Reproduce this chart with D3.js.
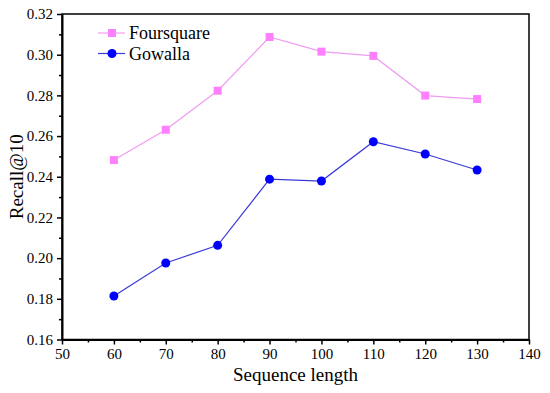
<!DOCTYPE html>
<html>
<head>
<meta charset="utf-8">
<script src="https://cdn.jsdelivr.net/npm/d3@7"></script>
<style>
  body { margin: 0; background: #fff; }
</style>
</head>
<body>
<div id="chart"></div>
<script>
// sequence lengths on the x axis
const seqLengths = [60, 70, 80, 90, 100, 110, 120, 130];
const foursquare = [0.2482, 0.2631, 0.2823, 0.3087, 0.3015, 0.2994, 0.2799, 0.2782];
const gowalla = [0.1814, 0.1976, 0.2063, 0.2388, 0.2379, 0.2572, 0.2512, 0.2433];
const xTicks = [50, 60, 70, 80, 90, 100, 110, 120, 130, 140];
const yTicks = [0.16, 0.18, 0.20, 0.22, 0.24, 0.26, 0.28, 0.30, 0.32];

const width = 550, height = 393;
const marginLeft = 62, marginRight = 21, marginTop = 14, marginBottom = 53.5;
const serif = "'Liberation Serif', 'Times New Roman', serif";

const svg = d3.select("#chart").append("svg")
  .attr("width", width)
  .attr("height", height)
  .style("font-family", serif);

const x = d3.scaleLinear([50, 140], [marginLeft, width - marginRight]);
const y = d3.scaleLinear([0.16, 0.32], [height - marginBottom, marginTop]);

// frame (top and right)
svg.append("rect")
  .attr("x", marginLeft).attr("y", marginTop)
  .attr("width", width - marginRight - marginLeft)
  .attr("height", height - marginBottom - marginTop)
  .attr("fill", "none").attr("stroke", "#000").attr("stroke-width", 1.5);

// minor ticks first
svg.append("g")
  .attr("transform", `translate(0,${height - marginBottom})`)
  .call(d3.axisBottom(x).tickValues(d3.range(55, 140, 10)).tickSize(3).tickFormat(""))
  .call(g => g.select(".domain").remove())
  .call(g => g.selectAll("line").attr("stroke-width", 1.5));

svg.append("g")
  .attr("transform", `translate(${marginLeft},0)`)
  .call(d3.axisLeft(y).tickValues(d3.range(0.17, 0.32, 0.02)).tickSize(3).tickFormat(""))
  .call(g => g.select(".domain").remove())
  .call(g => g.selectAll("line").attr("stroke-width", 1.5));

// major axes
svg.append("g")
  .attr("transform", `translate(0,${height - marginBottom})`)
  .call(d3.axisBottom(x).tickValues(xTicks).tickSize(5).tickPadding(4).tickSizeOuter(0))
  .attr("font-size", 15)
  .call(g => g.select(".domain").attr("stroke-width", 2))
  .call(g => g.selectAll("line").attr("stroke-width", 1.5))
  .call(g => g.selectAll("text").attr("fill", "#000").style("font-family", serif));

svg.append("g")
  .attr("transform", `translate(${marginLeft},0)`)
  .call(d3.axisLeft(y).tickValues(yTicks).tickSize(5).tickPadding(4).tickSizeOuter(0).tickFormat(d3.format(".2f")))
  .attr("font-size", 15)
  .call(g => g.select(".domain").attr("stroke-width", 2))
  .call(g => g.selectAll("line").attr("stroke-width", 1.5))
  .call(g => g.selectAll("text").attr("fill", "#000").style("font-family", serif));

// axis titles
svg.append("text")
  .attr("x", (marginLeft + width - marginRight) / 2)
  .attr("y", 381)
  .attr("text-anchor", "middle")
  .style("font-family", serif)
  .attr("font-size", 19)
  .text("Sequence length");

svg.append("text")
  .attr("transform", `translate(23,${(marginTop + height - marginBottom) / 2}) rotate(-90)`)
  .attr("text-anchor", "middle")
  .style("font-family", serif)
  .attr("font-size", 19)
  .text("Recall@10");

const line = d3.line()
  .x((d, i) => x(seqLengths[i]))
  .y(d => y(d));

const fsColor = "#ff80ff", fsLine = "#f09cf0";
const gwColor = "#0000ff", gwLine = "#3a3ad6";

svg.append("path")
  .attr("d", line(foursquare))
  .attr("fill", "none").attr("stroke", fsLine).attr("stroke-width", 1.2);

svg.append("path")
  .attr("d", line(gowalla))
  .attr("fill", "none").attr("stroke", gwLine).attr("stroke-width", 1.2);

svg.append("g").selectAll("rect")
  .data(foursquare)
  .join("rect")
  .attr("x", (d, i) => x(seqLengths[i]) - 4)
  .attr("y", d => y(d) - 4)
  .attr("width", 8).attr("height", 8)
  .attr("fill", fsColor);

svg.append("g").selectAll("circle")
  .data(gowalla)
  .join("circle")
  .attr("cx", (d, i) => x(seqLengths[i]))
  .attr("cy", d => y(d))
  .attr("r", 4.5)
  .attr("fill", gwColor);

// legend
const legend = svg.append("g");
[["Foursquare", fsColor, fsLine, "square"], ["Gowalla", gwColor, gwLine, "circle"]].forEach(([name, c, lc, shape], i) => {
  const ly = 33 + i * 20.5;
  legend.append("line")
    .attr("x1", 98).attr("x2", 125).attr("y1", ly).attr("y2", ly)
    .attr("stroke", lc).attr("stroke-width", 1.2);
  if (shape === "square") {
    legend.append("rect").attr("x", 108).attr("y", ly - 4).attr("width", 8).attr("height", 8).attr("fill", c);
  } else {
    legend.append("circle").attr("cx", 112).attr("cy", ly).attr("r", 4.5).attr("fill", c);
  }
  legend.append("text")
    .attr("x", 129).attr("y", ly + 6)
    .style("font-family", serif)
    .attr("font-size", 18)
    .text(name);
});
</script>
</body>
</html>
